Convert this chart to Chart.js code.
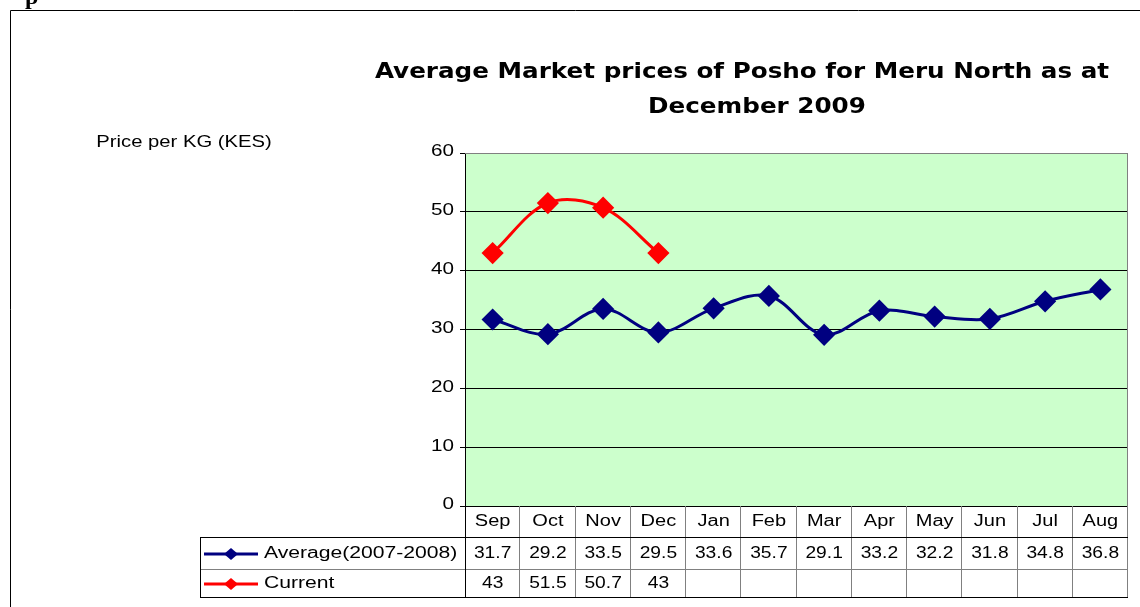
<!DOCTYPE html>
<html>
<head>
<meta charset="utf-8">
<script src="https://cdn.jsdelivr.net/npm/chart.js@4/dist/chart.umd.min.js"></script>
<style>
  html, body { margin: 0; padding: 0; background: #fff; }
  canvas { display: block; }
</style>
</head>
<body>
<canvas id="chart" width="1140" height="607"></canvas>
<script>
const months = ['Sep', 'Oct', 'Nov', 'Dec', 'Jan', 'Feb', 'Mar', 'Apr', 'May', 'Jun', 'Jul', 'Aug'];
const averagePrices = [31.7, 29.2, 33.5, 29.5, 33.6, 35.7, 29.1, 33.2, 32.2, 31.8, 34.8, 36.8];
const currentPrices = [43, 51.5, 50.7, 43, null, null, null, null, null, null, null, null];
const seriesNames = ['Average(2007-2008)', 'Current'];
const seriesColors = ['#000080', '#FF0000'];
const yTicks = [0, 10, 20, 30, 40, 50, 60];
const titleLines = ['Average Market prices of Posho for Meru North as at', 'December 2009'];
const yLabel = 'Price per KG (KES)';

const FONT = '"Liberation Sans", Arial, sans-serif';

// the source picture is stretched sideways, so text gets a horizontal scale
function wideText(ctx, text, x, y, sx, align) {
  ctx.save();
  ctx.translate(x, y);
  ctx.scale(sx, 1);
  ctx.textAlign = align;
  ctx.fillText(text, 0, 0);
  ctx.restore();
}

// background of the plot area
const plotBg = {
  id: 'plotBg',
  beforeDraw(chart) {
    const { ctx, chartArea: a } = chart;
    ctx.save();
    ctx.fillStyle = '#CCFFCC';
    ctx.fillRect(a.left, a.top, a.right - a.left, a.bottom - a.top);
    ctx.restore();
  }
};

// frame, titles, tick labels and the data table under the axis
const extras = {
  id: 'extras',
  afterDraw(chart) {
    const { ctx, chartArea: a, scales: { x, y } } = chart;
    ctx.save();

    // outer frame
    ctx.strokeStyle = '#000';
    ctx.lineWidth = 1;
    ctx.beginPath();
    ctx.moveTo(10.5, 620);
    ctx.lineTo(10.5, 10.5);
    ctx.lineTo(1150, 10.5);
    ctx.stroke();

    // bit of document text above the frame
    ctx.fillStyle = '#000';
    ctx.font = 'bold 20px "Liberation Serif", serif';
    ctx.textBaseline = 'alphabetic';
    wideText(ctx, 'p', 25, 4, 1.2, 'left');

    // title
    ctx.font = 'bold 22px "DejaVu Sans", Verdana, sans-serif';
    ctx.textBaseline = 'middle';
    wideText(ctx, titleLines[0], 742, 72, 1.12, 'center');
    wideText(ctx, titleLines[1], 757, 107, 1.12, 'center');

    // axis label
    ctx.font = '17px ' + FONT;
    wideText(ctx, yLabel, 184, 142, 1.19, 'center');

    // y tick labels
    ctx.font = '16px ' + FONT;
    yTicks.forEach(v => {
      wideText(ctx, String(v), 454, y.getPixelForValue(v) - 1, 1.29, 'right');
    });

    // plot border (right and top)
    ctx.strokeStyle = '#808080';
    ctx.beginPath();
    ctx.moveTo(a.left, a.top + 0.5);
    ctx.lineTo(a.right - 0.5, a.top + 0.5);
    ctx.lineTo(a.right - 0.5, a.bottom);
    ctx.stroke();

    // data table
    const n = months.length;
    const colW = (a.right - a.left) / n;
    const rowTop = [a.bottom, a.bottom + 31, a.bottom + 63, a.bottom + 91];
    const legendLeft = 200;

    ctx.lineWidth = 1;
    ctx.strokeStyle = '#808080';
    for (let i = 1; i <= n; i++) {
      const xx = Math.round(a.left + i * colW) - 0.5;
      ctx.beginPath();
      ctx.moveTo(xx, rowTop[0]);
      ctx.lineTo(xx, rowTop[3]);
      ctx.stroke();
    }
    ctx.beginPath();
    ctx.moveTo(legendLeft, rowTop[2] + 0.5);
    ctx.lineTo(a.right, rowTop[2] + 0.5);
    ctx.stroke();

    ctx.strokeStyle = '#000';
    ctx.beginPath();
    ctx.moveTo(a.left + 0.5, rowTop[0]);
    ctx.lineTo(a.left + 0.5, rowTop[3]);
    ctx.moveTo(legendLeft + 0.5, rowTop[1]);
    ctx.lineTo(legendLeft + 0.5, rowTop[3] + 0.5);
    ctx.moveTo(legendLeft, rowTop[1] + 0.5);
    ctx.lineTo(a.right, rowTop[1] + 0.5);
    ctx.moveTo(legendLeft, rowTop[3] + 0.5);
    ctx.lineTo(a.right, rowTop[3] + 0.5);
    ctx.stroke();

    ctx.fillStyle = '#000';
    ctx.font = '16px ' + FONT;
    ctx.textBaseline = 'middle';
    const rows = [averagePrices, currentPrices];
    months.forEach((m, i) => {
      const cx = x.getPixelForValue(i);
      wideText(ctx, m, cx, (rowTop[0] + rowTop[1]) / 2 + 0, 1.25, 'center');
      rows.forEach((vals, r) => {
        if (vals[i] !== null) {
          wideText(ctx, String(vals[i]), cx, (rowTop[r + 1] + rowTop[r + 2]) / 2 + 1, 1.2, 'center');
        }
      });
    });

    // legend keys
    seriesNames.forEach((name, r) => {
      const cy = (rowTop[r + 1] + rowTop[r + 2]) / 2 + 1;
      ctx.strokeStyle = seriesColors[r];
      ctx.lineWidth = 3;
      ctx.beginPath();
      ctx.moveTo(204, cy);
      ctx.lineTo(258, cy);
      ctx.stroke();
      ctx.fillStyle = seriesColors[r];
      ctx.beginPath();
      ctx.moveTo(231, cy - 6);
      ctx.lineTo(238, cy);
      ctx.lineTo(231, cy + 6);
      ctx.lineTo(224, cy);
      ctx.closePath();
      ctx.fill();
      ctx.fillStyle = '#000';
      ctx.font = '16px ' + FONT;
      wideText(ctx, name, 264, cy, 1.32, 'left');
    });

    ctx.restore();
  }
};

new Chart(document.getElementById('chart'), {
  type: 'line',
  data: {
    labels: months,
    datasets: [
      {
        label: seriesNames[0],
        data: averagePrices,
        borderColor: seriesColors[0],
        backgroundColor: seriesColors[0],
        borderWidth: 3,
        pointStyle: 'rectRot',
        pointRadius: 9,
        tension: 0.35
      },
      {
        label: seriesNames[1],
        data: currentPrices,
        borderColor: seriesColors[1],
        backgroundColor: seriesColors[1],
        borderWidth: 3,
        pointStyle: 'rectRot',
        pointRadius: 9,
        tension: 0.35,
        spanGaps: false
      }
    ]
  },
  options: {
    responsive: false,
    animation: false,
    layout: { padding: { left: 0, right: 11, top: 153, bottom: 101 } },
    plugins: {
      legend: { display: false },
      tooltip: { enabled: false },
      title: { display: false }
    },
    scales: {
      x: {
        display: false,
        offset: true
      },
      y: {
        min: 0,
        max: 60,
        afterFit(s) { s.width = 465; },
        afterBuildTicks(s) { s.ticks = yTicks.map(v => ({ value: v })); },
        ticks: {
          color: 'rgba(0,0,0,0)',
          font: { family: FONT, size: 15 },
          padding: 3
        },
        grid: {
          color: ctx => (ctx.tick && ctx.tick.value === 60 ? '#808080' : '#000'),
          tickColor: '#000',
          tickLength: 5,
          lineWidth: 1
        },
        border: { display: true, color: '#000', width: 1 }
      }
    }
  },
  plugins: [plotBg, extras]
});
</script>
</body>
</html>
